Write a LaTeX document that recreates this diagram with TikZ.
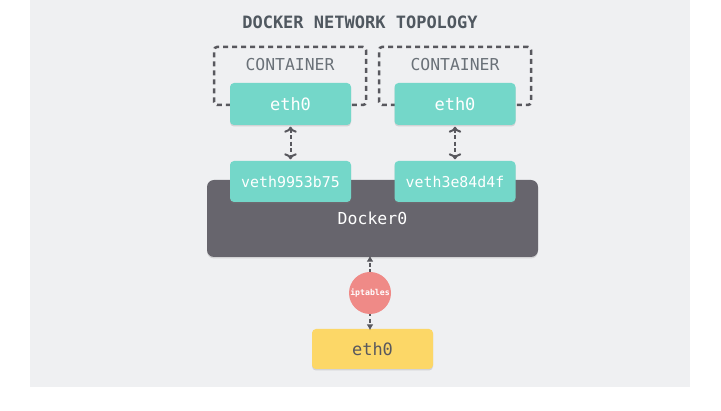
\documentclass[tikz,border=0pt]{standalone}
\usepackage{fontspec}
\setmonofont{DejaVu Sans Mono}
\usetikzlibrary{arrows.meta, positioning, shadows}
\definecolor{bggray}{HTML}{EFF0F2}
\definecolor{tealbox}{HTML}{74D7C9}
\definecolor{bridgegray}{HTML}{67656D}
\definecolor{iptred}{HTML}{EF8A87}
\definecolor{hostyellow}{HTML}{FCD767}
\definecolor{linegray}{HTML}{58585E}
\definecolor{titlegray}{HTML}{505860}
\tikzset{
  iface/.style={rectangle,fill=tealbox,rounded corners=4pt,text=white,font=\ttfamily\fontsize{17}{17}\selectfont,
    minimum width=121pt,minimum height=42pt,drop shadow={shadow xshift=0pt,shadow yshift=-1.5pt,opacity=0.25}},
  container/.style={rectangle,draw=linegray,line width=2.5pt,dash pattern=on 5pt off 4pt,rounded corners=3pt,
    minimum width=152pt,minimum height=58pt},
  contlabel/.style={text=titlegray!85,font=\ttfamily\fontsize{16.4}{16.4}\selectfont},
  line/.style={draw=linegray,line width=2pt,dash pattern=on 4pt off 2.5pt},
  tip/.style={arrows={-Latex[length=6pt,width=7pt]}}
}

\begin{document}
\begin{tikzpicture}[x=1pt,y=-1pt]
\useasboundingbox (0,0) rectangle (721,411);
\fill[bggray] (30,0) rectangle (690,387);
\node[text=titlegray,font=\ttfamily\bfseries\fontsize{17}{17}\selectfont] (title) at (360,22) {DOCKER NETWORK TOPOLOGY};
% containers
\node[container] (c1) at (290,76) {};
\node[container] (c2) at (455,76) {};
\node[contlabel] (c1l) at (290,65) {CONTAINER};
\node[contlabel] (c2l) at (455,65) {CONTAINER};
\node[iface] (e1) at (290.5,104) {eth0};
\node[iface] (e2) at (455,104) {eth0};
% bridge
\node[rectangle,fill=bridgegray,rounded corners=7pt,text=white,font=\ttfamily\fontsize{16.5}{16.5}\selectfont,
  minimum width=331pt,minimum height=77pt,drop shadow={shadow xshift=0pt,shadow yshift=-1.5pt,opacity=0.25}] (d0) at (372.5,218.5) {\raisebox{-3pt}{Docker0}};
\node[iface,minimum height=41pt,font=\ttfamily\fontsize{14.9}{14.9}\selectfont] (v1) at (290.5,181.5) {veth9953b75};
\node[iface,minimum height=41pt,font=\ttfamily\fontsize{14.9}{14.9}\selectfont] (v2) at (455,181.5) {veth3e84d4f};
% host side
\node[iface,fill=hostyellow,text=linegray,minimum height=40pt] (host) at (372.5,349) {eth0};
\coordinate (iptc) at (370,293);
\draw[line,tip] (iptc) -- ([yshift=1.5pt]iptc |- d0.south);
\draw[line,tip] (iptc) -- ([yshift=-1.5pt]iptc |- host.north);
\node[circle,fill=iptred,minimum size=42pt,inner sep=0pt,text=white,font=\ttfamily\bfseries\fontsize{8.2}{8.2}\selectfont] (ipt) at (iptc) {iptables};
\draw[line,tip,<->,shorten <=1.5pt,shorten >=1.5pt] (e1) -- (v1);
\draw[line,tip,<->,shorten <=1.5pt,shorten >=1.5pt] (e2) -- (v2);
\end{tikzpicture}
\end{document}
